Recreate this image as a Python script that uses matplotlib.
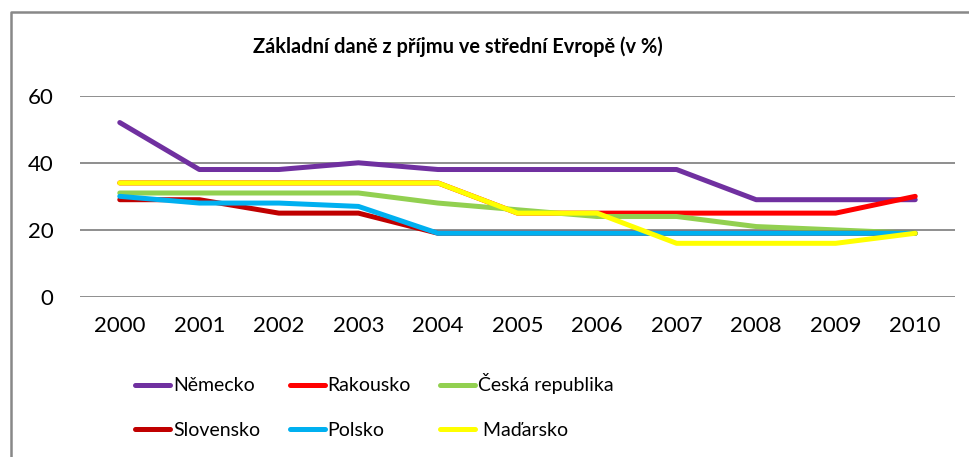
import matplotlib.pyplot as plt
from matplotlib.lines import Line2D

# Data
roky = ['2000', '2001', '2002', '2003', '2004', '2005', '2006', '2007', '2008', '2009', '2010']
nemecko = [52, 38, 38, 40, 38, 38, 38, 38, 29, 29, 29]
rakousko = [34, 34, 34, 34, 34, 25, 25, 25, 25, 25, 30]
cesko = [31, 31, 31, 31, 28, 26, 24, 24, 21, 20, 19]
slovensko = [29, 29, 25, 25, 19, 19, 19, 19, 19, 19, 19]
polsko = [30, 28, 28, 27, 19, 19, 19, 19, 19, 19, 19]
madarsko = [34, 34, 34, 34, 34, 25, 25, 16, 16, 16, 19]

nazvy = ['Německo', 'Rakousko', 'Česká republika', 'Slovensko', 'Polsko', ' Maďarsko']
barvy = ['#7030A0', '#FF0000', '#92D050', '#C00000', '#00B0F0', '#FFFF00']
rady = [nemecko, rakousko, cesko, slovensko, polsko, madarsko]
poradi = [2, 3, 4, 5, 6, 7]

plt.rcParams['font.family'] = ['Lato', 'DejaVu Sans']

fig = plt.figure(figsize=(9.7, 4.57), dpi=100)
ax = fig.add_axes([80 / 970, 160 / 457, 875 / 970, 201.3 / 457])

x = list(range(len(roky)))
for hodnoty, barva, z in zip(rady, barvy, poradi):
    ax.plot(x, hodnoty, color=barva, linewidth=3.6, solid_capstyle='round',
            solid_joinstyle='round', zorder=z)
# red end sits on top of purple in the original
ax.lines[1].set_zorder(2.5)

ax.set_xlim(-0.5, len(roky) - 0.5)
ax.set_ylim(0, 60)
ax.set_yticks([0, 20, 40, 60])
ax.set_xticks(x)
ax.set_xticklabels(roky)
ax.yaxis.grid(True, color='#868686', linewidth=1.3)
ax.set_axisbelow(True)
for s in ax.spines.values():
    s.set_visible(False)
ax.tick_params(axis='both', length=0, labelsize=16)
ax.tick_params(axis='y', pad=19)
ax.tick_params(axis='x', pad=14)

fig.text(458 / 970, 1 - 47 / 457, 'Základní daně z příjmu ve střední Evropě (v %)',
         ha='center', va='center', fontsize=14.4, fontweight='bold')

# legend fills by columns, so reorder to get rows like the original
handles = [Line2D([], [], color=b, linewidth=3.6, solid_capstyle='round') for b in barvy]
idx = [0, 3, 1, 4, 2, 5]
fig.legend([handles[i] for i in idx], [nazvy[i] for i in idx], ncol=3,
           loc='center left', bbox_to_anchor=(118 / 970, 51 / 457),
           frameon=False, fontsize=14, handlelength=1.8, handletextpad=0.15,
           columnspacing=1.5, labelspacing=1.4)

# outer chart frame (cropped on right and bottom)
fig.add_artist(Line2D([11 / 970, 11 / 970, 1.0], [0, 1 - 12 / 457, 1 - 12 / 457],
                      color='#888888', linewidth=1.8, transform=fig.transFigure))

fig.savefig('out.png', dpi=100)
